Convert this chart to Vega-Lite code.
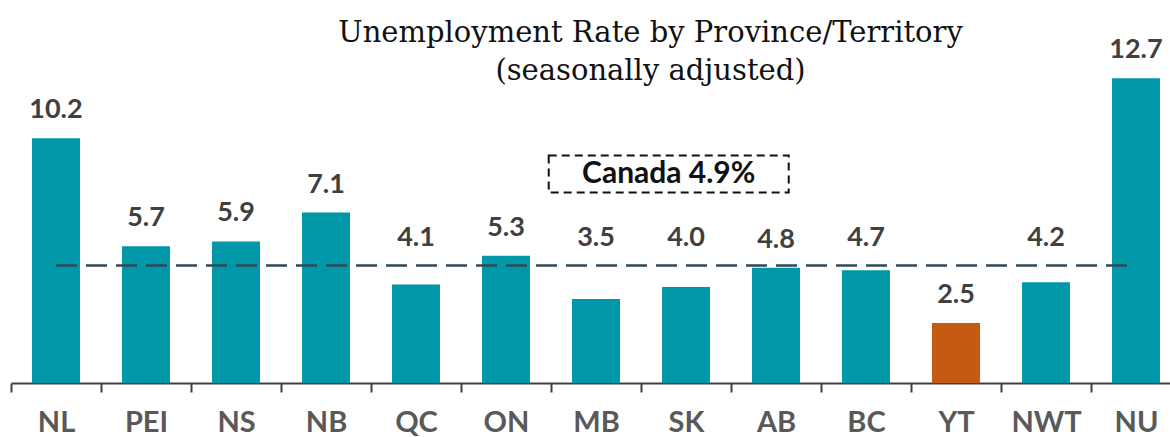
{
  "$schema": "https://vega.github.io/schema/vega-lite/v6.json",
  "width": 1159,
  "height": 383,
  "autosize": {"type": "none"},
  "padding": {"left": 11, "top": 0, "right": 0, "bottom": 54},
  "background": "white",
  "title": {
    "text": ["Unemployment Rate by Province/Territory", "(seasonally adjusted)"],
    "font": "DejaVu Serif",
    "fontSize": 29,
    "fontWeight": "normal",
    "color": "#111111",
    "lineHeight": 38,
    "anchor": "middle",
    "baseline": "top",
    "offset": -86,
    "dx": 60
  },
  "config": {"view": {"stroke": null}},
  "data": {
    "values": [
      {"prov": "NL", "rate": 10.2, "group": "other"},
      {"prov": "PEI", "rate": 5.7, "group": "other"},
      {"prov": "NS", "rate": 5.9, "group": "other"},
      {"prov": "NB", "rate": 7.1, "group": "other"},
      {"prov": "QC", "rate": 4.1, "group": "other"},
      {"prov": "ON", "rate": 5.3, "group": "other"},
      {"prov": "MB", "rate": 3.5, "group": "other"},
      {"prov": "SK", "rate": 4.0, "group": "other"},
      {"prov": "AB", "rate": 4.8, "group": "other"},
      {"prov": "BC", "rate": 4.7, "group": "other"},
      {"prov": "YT", "rate": 2.5, "group": "highlight"},
      {"prov": "NWT", "rate": 4.2, "group": "other"},
      {"prov": "NU", "rate": 12.7, "group": "other"}
    ]
  },
  "encoding": {
    "x": {
      "field": "prov",
      "type": "nominal",
      "sort": null,
      "scale": {"range": [0, 1170], "paddingInner": 0.467, "paddingOuter": 0.2335},
      "axis": {
        "title": null,
        "labelAngle": 0,
        "labelFont": "Lato",
        "labelFontSize": 29,
        "labelFontWeight": "bold",
        "labelColor": "#595959",
        "labelPadding": 16,
        "domainColor": "#404040",
        "domainWidth": 2,
        "tickColor": "#404040",
        "tickWidth": 2,
        "tickSize": 9,
        "tickOffset": -45,
        "labelOffset": 45
      }
    },
    "y": {
      "field": "rate",
      "type": "quantitative",
      "scale": {"domain": [0, 15.958], "nice": false, "zero": true},
      "axis": null
    }
  },
  "layer": [
    {
      "mark": {"type": "bar"},
      "encoding": {
        "color": {
          "field": "group",
          "type": "nominal",
          "scale": {"domain": ["other", "highlight"], "range": ["#0098A8", "#C55A11"]},
          "legend": null
        }
      }
    },
    {
      "transform": [{"filter": "datum.rate >= 4.75 || datum.rate < 3"}],
      "mark": {"type": "text", "font": "Lato", "fontSize": 27, "fontWeight": "bold", "color": "#404040", "baseline": "alphabetic", "dy": -20},
      "encoding": {
        "text": {"field": "rate", "type": "quantitative", "format": ".1f"}
      }
    },
    {
      "transform": [{"filter": "datum.rate < 4.75 && datum.rate >= 3"}],
      "mark": {"type": "text", "font": "Lato", "fontSize": 27, "fontWeight": "bold", "color": "#404040", "baseline": "alphabetic"},
      "encoding": {
        "y": {"datum": 5.7},
        "text": {"field": "rate", "type": "quantitative", "format": ".1f"}
      }
    },
    {
      "data": {"values": [{"canada": 4.9, "from": "NL", "to": "NU"}]},
      "mark": {"type": "rule", "color": "#2E4A5A", "strokeWidth": 2.5, "strokeDash": [21, 9]},
      "encoding": {
        "x": {"field": "from", "type": "nominal"},
        "x2": {"field": "to"},
        "y": {"field": "canada", "type": "quantitative"}
      }
    },
    {
      "data": {"values": [{"label": "Canada 4.9%", "pos": "SK", "yv": 8.71}]},
      "mark": {"type": "point", "shape": "M-1,-0.154L1,-0.154L1,0.154L-1,0.154Z", "size": 57600, "filled": false, "stroke": "#111111", "strokeWidth": 2, "strokeDash": [8, 5], "opacity": 1},
      "encoding": {
        "x": {"field": "pos", "type": "nominal", "bandPosition": 0.14},
        "y": {"field": "yv", "type": "quantitative"}
      }
    },
    {
      "data": {"values": [{"label": "Canada 4.9%", "pos": "SK", "yv": 8.71}]},
      "mark": {"type": "text", "font": "Lato", "fontSize": 30, "fontWeight": "bold", "color": "#111111", "baseline": "middle", "align": "center"},
      "encoding": {
        "x": {"field": "pos", "type": "nominal", "bandPosition": 0.14},
        "y": {"field": "yv", "type": "quantitative"},
        "text": {"field": "label"}
      }
    }
  ]
}
